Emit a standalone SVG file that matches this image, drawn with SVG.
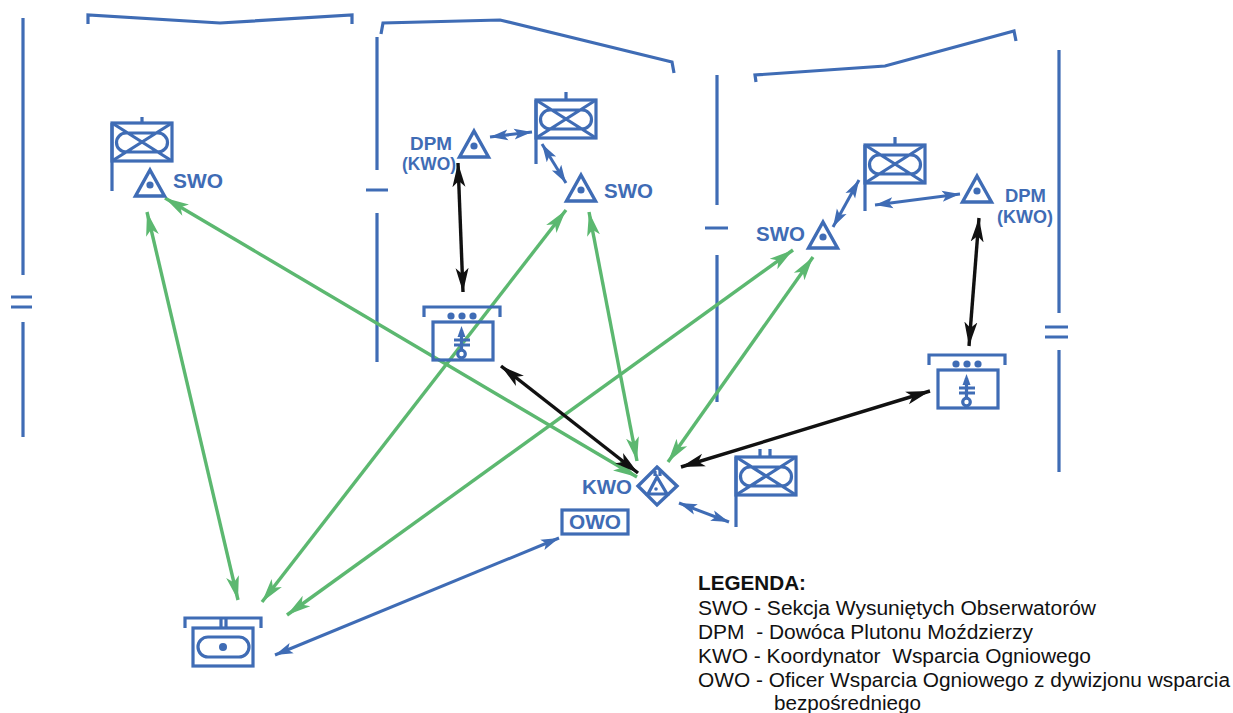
<svg xmlns="http://www.w3.org/2000/svg" width="1233" height="713" viewBox="0 0 1233 713">
<style>
.b{fill:none;stroke:#3f6cb5;stroke-width:3.2}
.t{fill:none;stroke:#3f6cb5;stroke-width:3.4;stroke-linejoin:miter}
.d{fill:#3f6cb5}
.lb{font-family:"Liberation Sans",Arial,sans-serif;font-weight:bold;fill:#3f6cb5}
.lg{font-family:"Liberation Sans",Arial,sans-serif;fill:#111;font-size:20px;white-space:pre}
.g{stroke:#5cb870;stroke-width:3.4;fill:none;marker-start:url(#mg);marker-end:url(#mg)}
.k{stroke:#111;stroke-width:3.4;fill:none;marker-start:url(#mk);marker-end:url(#mk)}
.u{stroke:#3f6cb5;stroke-width:3;fill:none;marker-start:url(#mu);marker-end:url(#mu)}
</style>
<defs>
<marker id="mg" markerUnits="userSpaceOnUse" markerWidth="26" markerHeight="16" refX="24" refY="8" orient="auto-start-reverse"><path d="M0,1.5 L24,8 L0,14.5 L6,8 Z" fill="#5cb870"/></marker>
<marker id="mk" markerUnits="userSpaceOnUse" markerWidth="26" markerHeight="16" refX="24" refY="8" orient="auto-start-reverse"><path d="M0,1.5 L24,8 L0,14.5 L6,8 Z" fill="#111"/></marker>
<marker id="mu" markerUnits="userSpaceOnUse" markerWidth="20" markerHeight="14" refX="18" refY="7" orient="auto-start-reverse"><path d="M0,1.500 L18,7 L0,12.500 L4,7 Z" fill="#3f6cb5"/></marker>
<g id="flagBody">
<rect class="b" x="0" y="0" width="60" height="38"/>
<path class="b" d="M0,0 L60,38 M60,0 L0,38 M14,10 H46 M14,29 H46"/>
<path class="b" d="M14,10 A9.5,9.5 0 0 0 14,29 M46,10 A9.5,9.5 0 0 1 46,29"/>
</g>
<g id="tri">
<path class="t" d="M0,-15 L14.5,11 L-14.5,11 Z"/>
<circle class="d" r="3.6"/>
</g>
<g id="mortar">
<path class="b" d="M-9,-5 V-15 H67 V-5"/>
<circle class="d" cx="18" cy="-6" r="3.6"/><circle class="d" cx="29" cy="-6" r="3.6"/><circle class="d" cx="40" cy="-6" r="3.6"/>
<rect class="b" x="0" y="0" width="60" height="38"/>
<path class="b" d="M28.500,8 V29 M21,18 H37 M21,23 H37"/>
<path class="d" d="M28.500,4 L32.500,15 H24.500 Z"/>
<circle class="b" cx="28.500" cy="32" r="3.800" fill="#fff"/>
</g>
</defs>
<rect width="1233" height="713" fill="#fff"/>

<g id="boundaries">
<path class="b" d="M23,18 V275 M23,322 V437 M11,297 H32 M11,307 H32"/>
<path class="b" d="M88,24 V15 L220,23 L352,15 V24"/>
<path class="b" d="M377,37 V170 M377,213 V362 M366,190 H388"/>
<path class="b" d="M381,34 L383,23 L500,20 L672,62 L674,73"/>
<path class="b" d="M717,75 V205 M717,255 V402 M705,228 H728"/>
<path class="b" d="M756,82 L755,75 L885,66 L1014,31 L1016,41"/>
<path class="b" d="M1059,50 V313 M1059,350 V472 M1045,327 H1068 M1045,337 H1068"/>
</g>

<g id="connectors">
<path class="g" d="M147,212 L238,600"/>
<path class="g" d="M165,198 L637,477"/>
<path class="g" d="M566,210 L262,602"/>
<path class="g" d="M589,212 L637,461"/>
<path class="g" d="M793,250 L287,615"/>
<path class="g" d="M813,257 L668,462"/>
<path class="k" d="M458,163 L463,292"/>
<path class="k" d="M501,366 L638,473"/>
<path class="k" d="M681,467 L930,391"/>
<path class="k" d="M979,218 L969,346"/>
<path class="u" d="M490,137 L532,132"/>
<path class="u" d="M542,144 L566,183"/>
<path class="u" d="M833,227 L859,180"/>
<path class="u" d="M875,205 L960,194"/>
<path class="u" d="M679,503 L729,522"/>
<path class="u" d="M275,655 L559,538"/>
</g>

<g id="flag1"><use href="#flagBody" transform="translate(112,123)"/><path class="b" d="M142,117 V123 M112,123 V191"/></g>
<g id="swo1"><use href="#tri" transform="translate(150,185)"/><text class="lb" x="173" y="188" font-size="21" textLength="50" lengthAdjust="spacingAndGlyphs">SWO</text></g>
<g id="flag2"><use href="#flagBody" transform="translate(536,100)"/><path class="b" d="M566,92 V100 M536,100 V164"/></g>
<g id="dpm2"><use href="#tri" transform="translate(474,146)"/><text class="lb" x="410" y="150" font-size="19" textLength="42" lengthAdjust="spacingAndGlyphs">DPM</text><text class="lb" x="402" y="170" font-size="19" textLength="54" lengthAdjust="spacingAndGlyphs">(KWO)</text></g>
<g id="swo2"><use href="#tri" transform="translate(581,190)"/><text class="lb" x="604" y="198" font-size="21" textLength="49" lengthAdjust="spacingAndGlyphs">SWO</text></g>
<g id="mortar2"><use href="#mortar" transform="translate(433,322)"/></g>
<g id="flag3"><use href="#flagBody" transform="translate(865,145)"/><path class="b" d="M895,137 V145 M865,145 V211"/></g>
<g id="swo3"><use href="#tri" transform="translate(823,237)"/><text class="lb" x="756" y="241" font-size="21" textLength="49" lengthAdjust="spacingAndGlyphs">SWO</text></g>
<g id="dpm3"><use href="#tri" transform="translate(977,191)"/><text class="lb" x="1005" y="202" font-size="19" textLength="41" lengthAdjust="spacingAndGlyphs">DPM</text><text class="lb" x="997" y="223" font-size="19" textLength="56" lengthAdjust="spacingAndGlyphs">(KWO)</text></g>
<g id="mortar3"><use href="#mortar" transform="translate(938,370)"/></g>
<g id="kwo">
<path class="t" d="M657,467 L677,486 L657,505 L638,486 Z"/>
<path class="b" stroke-width="2" d="M657,477 L667,494 H648 Z M655,471 V476 M660,471 V476"/>
<circle class="d" cx="656" cy="489" r="1.8"/>
<text class="lb" x="582" y="494" font-size="21" textLength="50" lengthAdjust="spacingAndGlyphs">KWO</text>
</g>
<g id="owo"><rect class="b" x="562" y="510" width="66" height="24"/><text class="lb" x="569" y="529" font-size="20" textLength="52" lengthAdjust="spacingAndGlyphs">OWO</text></g>
<g id="flag4"><use href="#flagBody" transform="translate(736,457)"/><path class="b" d="M760,449 V457 M770,449 V457 M736,457 V527"/></g>
<g id="batalion">
<path class="b" d="M185,628 V618 H261 V628"/>
<rect class="b" x="193" y="628" width="60" height="38"/>
<path class="b" d="M221,618 V628 M226,618 V628"/>
<rect class="b" x="198" y="637" width="51" height="20" rx="10"/>
<circle class="d" cx="223" cy="647" r="4"/>
</g>

<g id="legend">
<text class="lg" x="698" y="590" font-weight="bold" textLength="108" lengthAdjust="spacingAndGlyphs">LEGENDA:</text>
<text class="lg" x="698" y="615" textLength="398" lengthAdjust="spacingAndGlyphs">SWO - Sekcja Wysuniętych Obserwatorów</text>
<text class="lg" x="698" y="639" textLength="335" lengthAdjust="spacingAndGlyphs">DPM  - Dowóca Plutonu Moździerzy</text>
<text class="lg" x="698" y="663" textLength="393" lengthAdjust="spacingAndGlyphs">KWO - Koordynator  Wsparcia Ogniowego</text>
<text class="lg" x="698" y="687" textLength="532" lengthAdjust="spacingAndGlyphs">OWO - Oficer Wsparcia Ogniowego z dywizjonu wsparcia</text>
<text class="lg" x="774" y="710" textLength="147" lengthAdjust="spacingAndGlyphs">bezpośredniego</text>
</g>
</svg>
